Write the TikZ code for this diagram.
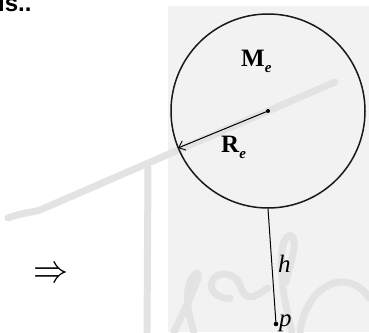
\documentclass[tikz,border=0pt]{standalone}
\usepackage{fontspec}
\newfontfamily\headsans{Liberation Sans}
\newfontfamily\lserif{Liberation Serif}
\usetikzlibrary{arrows.meta}
\newcommand{\subsc}[2]{{\lserif\bfseries #1}\raisebox{-6pt}{\lserif\bfseries\itshape\fontsize{15}{15}\selectfont #2}}
\begin{document}
\begin{tikzpicture}[x=1pt,y=-1pt,
  wmark/.style={draw=black!11,line width=7pt,line cap=round,line join=round},
  lbl/.style={inner sep=0pt,font=\lserif\fontsize{25}{27}\selectfont}]
\useasboundingbox (0,0) rectangle (369,332);
% scanned panel
\fill[black!5] (168,6) rectangle (369,332);
% watermark strokes
\draw[wmark] (8,218) .. controls (20,213) and (35,212) .. (40,210) -- (335,82);
\draw[wmark] (148,168) -- (147,332);
\draw[wmark] (174,332) .. controls (185,310) and (196,285) .. (198,278) .. controls (200,268) and (190,275) .. (188,290) .. controls (186,305) and (190,320) .. (194,332);
\draw[wmark] (230,298) .. controls (222,300) and (208,292) .. (212,282) .. controls (216,270) and (236,272) .. (240,285) .. controls (244,298) and (250,300) .. (262,292) -- (268,288);
\draw[wmark] (292,332) .. controls (284,300) and (278,270) .. (283,245) .. controls (286,232) and (296,232) .. (294,248) .. controls (292,262) and (288,272) .. (286,282);
\draw[wmark] (300,332) .. controls (304,300) and (325,280) .. (345,282) .. controls (358,284) and (366,292) .. (369,298);
% heading fragment
\node[anchor=base west,inner sep=0pt,font=\headsans\bfseries\fontsize{24}{24}\selectfont] (hd) at (-2,12) {is..};
% earth
\node[draw=black!90,circle,line width=1.5pt,minimum size=194pt,inner sep=0pt] (earth) at (268,111) {};
\fill (268,111) circle (2pt) coordinate (c);
\coordinate (rim) at (178,148);
\draw[line width=1pt,-{Straight Barb[length=6pt,width=10pt,line width=0.9pt]}] (c) -- (rim);
\node[lbl,anchor=base west] (me) at (241,66) {\subsc{M}{e}};
\node[lbl,anchor=base west] (re) at (221,152) {\subsc{R}{e}};
% height line
\coordinate (p) at (276,324);
\draw[line width=1pt] (earth.south) -- (p);
\fill (p) circle (2.3pt);
\node[lbl,anchor=base west] (h) at (278,272) {\itshape h};
\node[lbl,anchor=base west] (pl) at (279,326) {\itshape p};
% implies arrow
\node[inner sep=0pt] (imp) at (51,275) {\scalebox{3.5}[4]{$\Rightarrow$}};
\end{tikzpicture}
\end{document}
